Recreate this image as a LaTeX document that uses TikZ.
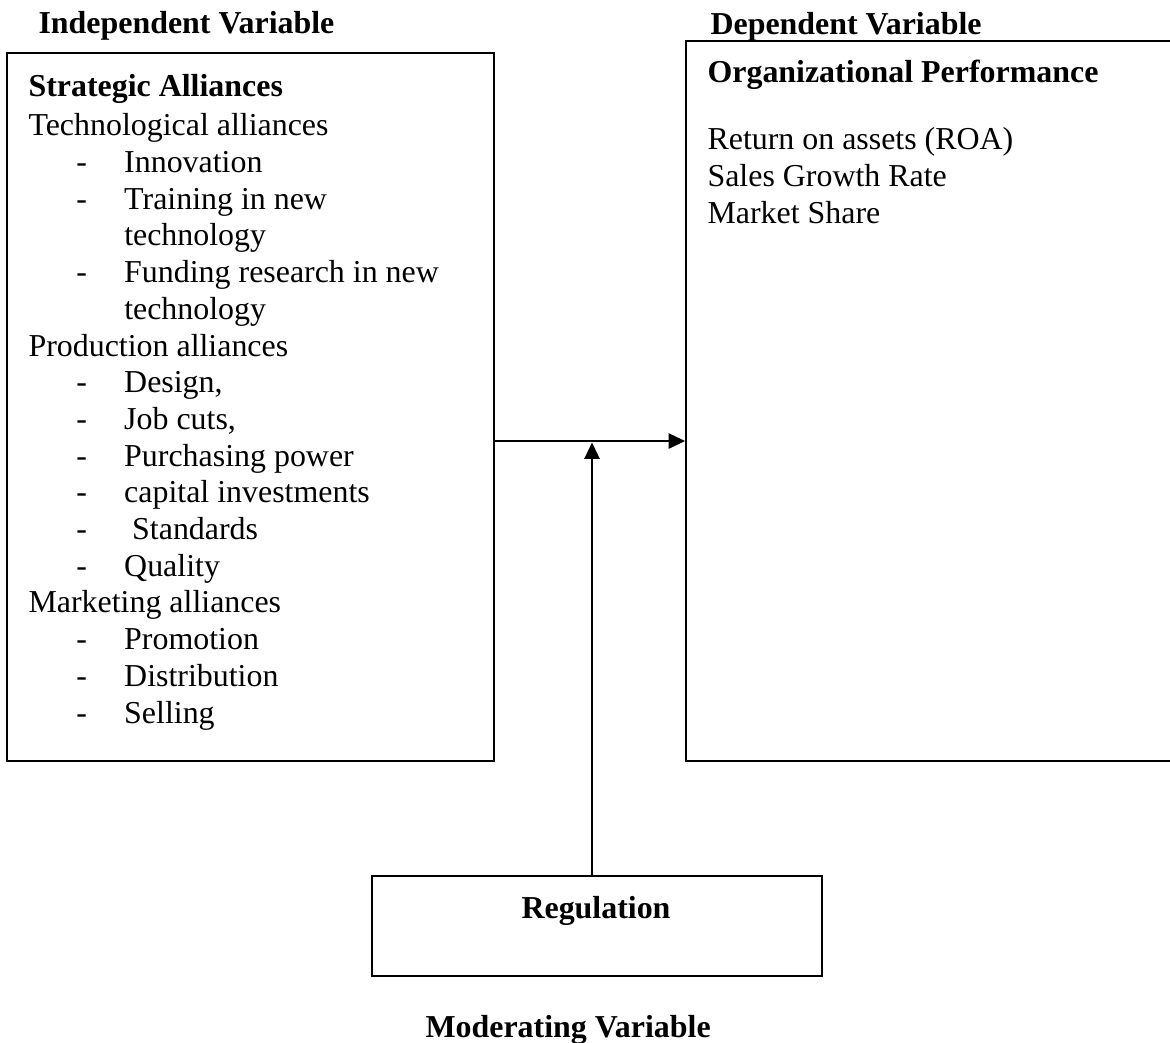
\documentclass[tikz,border=0pt]{standalone}
\usepackage{fontspec}
\setmainfont{Liberation Serif}
\usetikzlibrary{arrows.meta,positioning,fit}
\tikzset{
  varbox/.style={draw=black,line width=0.6pt,inner sep=0pt},
  txt/.style={inner sep=0pt,anchor=base west,align=left,font=\fontsize{12}{13.8}\selectfont},
  heading/.style={inner sep=0pt,anchor=base west,font=\fontsize{12}{13.8}\selectfont\bfseries},
  effect/.style={-{Triangle[length=6.2pt,width=5.6pt]},line width=1pt}
}
\newcommand{\itm}[1]{\hspace*{18pt}\makebox[18pt][l]{-}#1}
\newcommand{\cont}[1]{\hspace*{36pt}#1}

\begin{document}
\begin{tikzpicture}[x=0.376pt,y=-0.376pt]
  \useasboundingbox (0,0) rectangle (1170,1042);
  % variable headings
  \node[heading] (indep) at (38,33) {Independent Variable};
  \node[heading] (dep) at (710,34) {Dependent Variable};
  \node[heading] (moder) at (425,1037) {Moderating Variable};
  % boxes
  \node[varbox,fit={(7,53) (494,761)}] (sa) {};
  \node[varbox,fit={(686,41) (1180,761)}] (op) {};
  \node[varbox,fit={(372,876) (822,976)}] (reg) {};
  % box contents (base = last line)
  \node[txt] (satext) at (28,723) {\textbf{Strategic Alliances}\\[1.1pt]
    Technological alliances\\
    \itm{Innovation}\\
    \itm{Training in new}\\
    \cont{technology}\\
    \itm{Funding research in new}\\
    \cont{technology}\\
    Production alliances\\
    \itm{Design,}\\
    \itm{Job cuts,}\\
    \itm{Purchasing power}\\
    \itm{capital investments}\\
    \itm{\ Standards}\\
    \itm{Quality}\\
    Marketing alliances\\
    \itm{Promotion}\\
    \itm{Distribution}\\
    \itm{Selling}};
  \node[txt] (optext) at (707,223) {\textbf{Organizational Performance}\\[11.4pt]
    Return on assets (ROA)\\
    Sales Growth Rate\\
    Market Share};
  \node[heading,anchor=base] (regtext) at (596,918) {Regulation};
  % arrows
  \coordinate (meet) at (592,441);
  \draw[effect] (sa.east |- meet) -- (op.west |- meet);
  \draw[effect,shorten >=0.5pt] (reg.north -| meet) -- (meet);
\end{tikzpicture}
\end{document}
